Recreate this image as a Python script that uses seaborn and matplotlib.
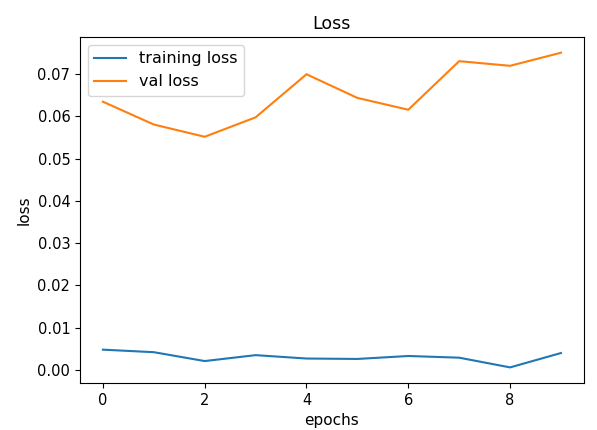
import numpy as np
import pandas as pd
import matplotlib
matplotlib.use("Agg")
import matplotlib.pyplot as plt
import seaborn as sns

epochs = list(range(10))
training_loss = [0.0048, 0.0042, 0.0021, 0.0035, 0.0027, 0.0026, 0.0033, 0.0029, 0.0006, 0.0040]
val_loss = [0.0635, 0.0581, 0.0552, 0.0598, 0.0700, 0.0644, 0.0616, 0.0731, 0.0720, 0.0751]

df = pd.DataFrame({
    "epochs": epochs * 2,
    "loss": training_loss + val_loss,
    "series": ["training loss"] * len(epochs) + ["val loss"] * len(epochs),
})

fig, ax = plt.subplots(figsize=(5.97, 4.30), dpi=100)
fig.subplots_adjust(left=0.134, right=0.978, top=0.914, bottom=0.109)
sns.lineplot(data=df, x="epochs", y="loss", hue="series",
             palette=["#1f77b4", "#ff7f0e"], ax=ax)
ax.legend(loc="upper left", fontsize=11.5)
ax.set_title("Loss", fontsize=12.5)
ax.set_xlabel("epochs", fontsize=11)
ax.set_ylabel("loss", fontsize=11)
ax.tick_params(labelsize=10.5)
fig.savefig("out.png")
